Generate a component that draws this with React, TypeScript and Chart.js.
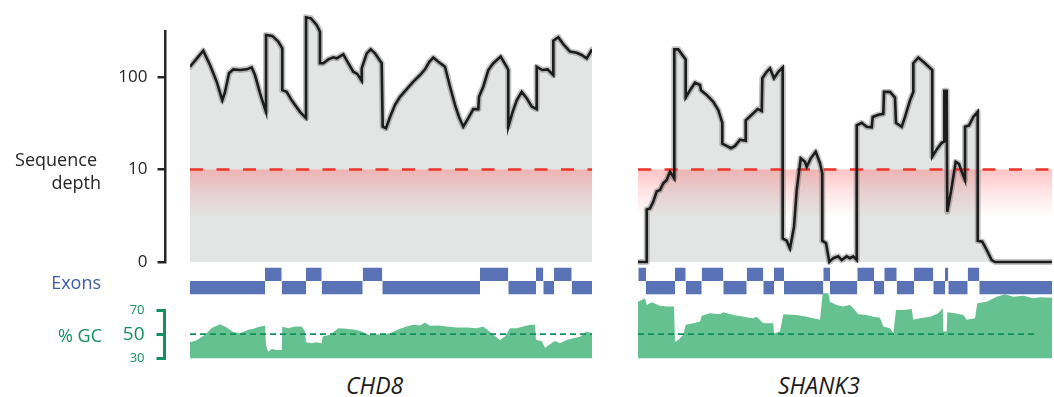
import React, { useEffect, useRef } from 'react';
import { Chart, registerables } from 'chart.js';

Chart.register(...registerables);

// ---------------- data ----------------
const GENES = ['CHD8', 'SHANK3'];

// region lengths (relative position units)
const CHD8_LENGTH = 402;
const SHANK3_LENGTH = 414;

// sequence depth: [position, depth]
const CHD8_DEPTH: [number, number][] = [
  [0, 129], [8.3, 166], [13.3, 193], [20, 135], [26.7, 89], [32.3, 56], [35, 69], [39, 110], [43.3, 121], [50, 119],
  [56.7, 121], [61.7, 127], [65, 105], [70, 67], [76, 42], [76, 285], [82.3, 278], [88.3, 241], [92.3, 204], [92.3, 72],
  [96.7, 69], [101.7, 56], [110, 42], [116, 36], [116, 442], [121, 431], [126.7, 365], [130, 309], [130, 141], [133.3, 141],
  [138.3, 155], [143.3, 163], [146.7, 159], [153.3, 176], [158.3, 141], [163.3, 114], [167.3, 108], [171.7, 91], [171.7, 124], [176.7, 180],
  [180.7, 199], [185, 180], [191.7, 141], [192.7, 29], [196, 28], [200, 37], [205, 50], [210, 61], [216.7, 74], [223.3, 89],
  [230, 105], [235, 121], [239.3, 146], [243.3, 162], [248.3, 146], [255, 129], [260, 79], [265, 50], [269, 37], [273.3, 29],
  [278.3, 36], [283.3, 45], [288.3, 45], [289, 61], [293.3, 79], [298.3, 119], [303.3, 141], [310.7, 166], [316.7, 129], [318.3, 119],
  [318.3, 29], [322.3, 41], [326.7, 56], [331.7, 69], [336.7, 59], [341.7, 48], [346.7, 45], [346.7, 129], [352.3, 119], [357.7, 121],
  [363.3, 105], [363.3, 247], [368.3, 269], [373.3, 227], [380, 188], [386.7, 183], [391.7, 173], [396.7, 159], [402, 199],
];

const SHANK3_DEPTH: [number, number][] = [
  [0, 0], [8.7, 0], [8.7, 3.7], [12, 3.8], [15.3, 4.5], [18.7, 5.8], [22, 6], [25.3, 7.1], [28.7, 7.7], [32, 9.5],
  [36.3, 8], [36.3, 199], [40.3, 199], [47.7, 155], [47.7, 60], [52, 72], [57, 87], [62, 82], [63, 72], [68.7, 64],
  [75.3, 54], [80.3, 44], [84.3, 32], [84.3, 19], [88.7, 18], [93, 17], [97, 18], [102, 21], [107.7, 20.5], [107.7, 34],
  [113.7, 39], [119.7, 45], [123.7, 43], [124.3, 97], [128.7, 114], [132, 124], [136, 97], [140.3, 114], [144.7, 127], [144.7, 1.8],
  [148.7, 1.7], [152, 1.4], [156, 2.4], [158.7, 6], [162.7, 13.2], [167, 12.1], [168.7, 10.7], [172.7, 13.2], [177.7, 15.6], [182, 11.7],
  [184.3, 9.1], [184.3, 1.7], [188, 1.6], [191.3, 0], [195.3, 1.1], [200.3, 1.15], [203.7, 1.05], [208.7, 1.15], [212, 1.1], [215.3, 1.15],
  [218.7, 1.05], [218.7, 30], [223.7, 32], [228.7, 29], [233.7, 28.6], [234.7, 37], [240.3, 39], [245.3, 40], [246, 69], [252, 69],
  [257, 60], [258, 32], [263.7, 29], [267, 37], [272, 56], [275.3, 69], [275.3, 141], [280.3, 162], [287, 141], [294.3, 119],
  [294.3, 13.8], [298.7, 16.5], [303.7, 19.5], [306.3, 20], [306.3, 71], [308.7, 71], [309.3, 3.5], [313, 5.8], [317.7, 12.1], [321, 11.5],
  [323.7, 9.5], [327, 7.7], [327, 29], [331, 30], [335.3, 37], [339.7, 42], [339.7, 1.7], [344.3, 1.66], [348.7, 1.35], [353.7, 1.05],
  [357, 0], [414, 0],
];

// % GC: [position, percent]
const CHD8_GC: [number, number][] = [
  [0, 43.3], [6.7, 45], [15, 49.4], [21.7, 55], [30, 58.3], [36.7, 55.5], [43.3, 51.7], [50, 50.8], [58.3, 53.6], [63.3, 54.4],
  [70, 56.3], [75, 56.9], [76, 40.5], [78.3, 35.5], [81.7, 37.7], [86.7, 36.9], [91.7, 36.9], [92.3, 56.3], [98.3, 54.9], [105, 56.3],
  [111.7, 56.3], [115, 52.2], [116, 43.3], [121.7, 42.4], [126.7, 43.3], [131.7, 42.4], [132.7, 48.1], [140, 49.4], [148.3, 54.9], [156.7, 54.4],
  [165, 53.6], [171.7, 52.2], [178.3, 49.4], [185, 50], [191.7, 49.4], [200, 50.8], [210, 54.4], [216.7, 56.3], [223.3, 57.7], [230, 57.1],
  [235, 59.6], [240, 56.9], [248.3, 57.1], [256.7, 56.3], [266.7, 55.5], [276.7, 55.5], [286.7, 54.9], [293.3, 56.3], [301.7, 50.8], [310, 45.2],
  [315, 48], [320, 54.9], [326.7, 54.9], [333.3, 56.3], [340, 57.7], [345, 57.7], [346, 45.2], [351.7, 44.3], [355, 38.8], [360, 41.6],
  [365, 44.3], [370, 42.4], [376.7, 45.2], [383.3, 46.6], [390, 47.9], [396.7, 52.1], [402, 50.8],
];

const SHANK3_GC: [number, number][] = [
  [0, 76.9], [7, 79.7], [8.7, 74.1], [13.7, 76.4], [22, 73.6], [28.7, 72.8], [36, 72.8], [37, 43.8], [40.3, 45.2], [45.3, 49.4],
  [47.7, 57.7], [55.3, 59], [62, 60.4], [63.7, 65.3], [72, 67.3], [82, 66.5], [85.3, 68.1], [95.3, 65.9], [105.3, 64.5], [115.3, 63.1],
  [118.7, 64.5], [125.3, 59], [135.3, 59], [136, 50.8], [142, 52.2], [145.3, 66.5], [158.7, 65.9], [168.7, 64.5], [175.3, 63.1], [182, 62],
  [184.7, 83.8], [190.3, 83.8], [192, 76.9], [198.7, 74.1], [205.3, 72.8], [212, 74.1], [215.3, 71.4], [220.3, 66.5], [228.7, 65.9], [235.3, 64.5],
  [242, 63.6], [245.3, 56.3], [252, 54.9], [255.3, 50.8], [258, 70], [265.3, 70], [273.7, 70.8], [275.3, 62], [282, 63.1], [292, 64.5],
  [300.3, 67.3], [304.7, 71.4], [305.3, 52.2], [308.7, 52.2], [309.3, 68.1], [317, 67.3], [325.3, 65.9], [328.7, 62], [337, 63.1], [339.3, 75.5],
  [348.7, 76.9], [358.7, 81], [367, 83], [375.3, 81], [385.3, 81.8], [395.3, 79.7], [402, 80.5], [414, 80.2],
];

// exons: boundaries and row (0 = lower, 1 = upper)
const CHD8_EXON_BOUNDS = [0, 75, 91.7, 116, 131.7, 172.7, 192.3, 290, 318.3, 346, 353.3, 364, 381.7, 402.3];
const CHD8_EXON_ROWS = [0, 1, 0, 1, 0, 1, 0, 1, 0, 1, 0, 1, 0];
const SHANK3_EXON_BOUNDS = [0.3, 8, 37, 47.7, 63.7, 85.3, 108.7, 125.3, 136, 146, 185.3, 192, 219.3, 236, 246.3, 258.7, 276, 295.3, 307, 310.3, 329.7, 341.3, 414];
const SHANK3_EXON_ROWS = [1, 0, 1, 0, 1, 0, 1, 0, 1, 0, 1, 0, 1, 0, 1, 0, 1, 0, 1, 0, 1, 0];

const DEPTH_TICKS = [0, 10, 100];
const GC_TICKS = [30, 50, 70];
const DEPTH_THRESHOLD = 10;
const GC_REFERENCE = 50;
const CHD8_GC_REF_END = 402;
const SHANK3_GC_REF_END = 399;

// ---------------- layout / style ----------------
const FONT = "'Open Sans', 'DejaVu Sans', sans-serif";
Chart.defaults.font.family = FONT;

const PANEL_H = 365;
const PX = {
  depthOne: 262,
  depthTen: 169.5,
  depthAxisTop: 31.7,
  exonLow: 294.3,
  exonHigh: 267.7,
  gcLow: 358.3,
  gcHigh: 310,
  axisX: 165.5,
};
const COLORS = {
  fill: '#e3e4e4',
  band: 'rgba(95,95,95,0.38)',
  line: '#1c1c1c',
  red: '#ea3329',
  exon: '#5a72b6',
  gc: '#66c190',
  gcDark: '#12905e',
  text: '#262626',
  blueText: '#3d5ba8',
};

function linRange(v0: number, p0: number, v1: number, p1: number, top: number, bottom: number) {
  const k = (p0 - p1) / (v1 - v0);
  return { min: v0 - (bottom - p0) / k, max: v1 + (p1 - top) / k };
}
function logRange(v0: number, p0: number, v1: number, p1: number, top: number, bottom: number) {
  const r = linRange(Math.log10(v0), p0, Math.log10(v1), p1, top, bottom);
  return { min: Math.pow(10, r.min), max: Math.pow(10, r.max) };
}
const toLog = (d: number) => Math.max(1, d);

type PanelProps = {
  left: number;
  length: number;
  depth: [number, number][];
  gc: [number, number][];
  bounds: number[];
  rows: number[];
  gcRefEnd: number;
};

function Panel({ left, length, depth, gc, bounds, rows, gcRefEnd }: PanelProps) {
  const ref = useRef<HTMLCanvasElement>(null);
  useEffect(() => {
    const yD = logRange(1, PX.depthOne, 10, PX.depthTen, 0, PANEL_H);
    const yE = linRange(0, PX.exonLow, 2, PX.exonHigh, 0, PANEL_H);
    const yG = linRange(30, PX.gcLow, 70, PX.gcHigh, 0, PANEL_H);
    const depthPts = depth.map(([x, d]) => ({ x, y: toLog(d) }));
    const thr = [{ x: 0, y: DEPTH_THRESHOLD }, { x: length, y: DEPTH_THRESHOLD }];
    const base = { pointRadius: 0, tension: 0, borderWidth: 0 };
    const datasets: any[] = [
      { ...base, data: depthPts, yAxisID: 'yD', backgroundColor: COLORS.fill, fill: { value: 1 }, order: 10 },
      {
        ...base, data: thr, yAxisID: 'yD', fill: { value: 1 }, order: 9,
        backgroundColor: (c: any) => {
          const chart = c.chart;
          if (!chart.chartArea || !chart.scales.yD) return 'rgba(0,0,0,0)';
          const y0 = chart.scales.yD.getPixelForValue(DEPTH_THRESHOLD);
          const g = chart.ctx.createLinearGradient(0, y0, 0, y0 + 48);
          g.addColorStop(0, 'rgba(255,105,105,0.4)');
          g.addColorStop(0.45, 'rgba(255,105,105,0.18)');
          g.addColorStop(1, 'rgba(255,105,105,0)');
          return g;
        },
      },
      { ...base, data: depthPts, yAxisID: 'yD', borderColor: COLORS.band, borderWidth: 6, borderJoinStyle: 'round', borderCapStyle: 'round', fill: false, order: 8 },
      { ...base, data: thr, yAxisID: 'yD', borderColor: COLORS.red, borderWidth: 2.6, borderDash: [13, 13.5], fill: false, order: 7 },
      { ...base, data: depthPts, yAxisID: 'yD', borderColor: COLORS.line, borderWidth: 2.6, fill: false, order: 1 },
    ];
    rows.forEach((row, i) => {
      datasets.push({
        ...base,
        data: [{ x: bounds[i], y: row + 1 }, { x: bounds[i + 1], y: row + 1 }],
        yAxisID: 'yE', backgroundColor: COLORS.exon, fill: { value: row }, order: 5,
      });
    });
    datasets.push({ ...base, data: gc.map(([x, v]) => ({ x, y: v })), yAxisID: 'yG', backgroundColor: COLORS.gc, fill: { value: 30 }, order: 6 });
    datasets.push({
      ...base, data: [{ x: 0, y: GC_REFERENCE }, { x: gcRefEnd, y: GC_REFERENCE }], yAxisID: 'yG',
      borderColor: COLORS.gcDark, borderWidth: 1.6, borderDash: [6, 4], fill: false, order: 4,
    });

    const chart = new Chart(ref.current!, {
      type: 'line',
      data: { datasets },
      options: {
        responsive: false,
        animation: false,
        events: [],
        layout: { padding: 0 },
        plugins: { legend: { display: false }, tooltip: { enabled: false } },
        scales: {
          x: { type: 'linear', min: 0, max: length, display: false },
          yD: { type: 'logarithmic', min: yD.min, max: yD.max, display: false },
          yE: { type: 'linear', min: yE.min, max: yE.max, display: false },
          yG: { type: 'linear', min: yG.min, max: yG.max, display: false },
        },
      } as any,
    });
    return () => chart.destroy();
  }, []);
  const width = Math.round(length);
  return (
    <canvas ref={ref} width={width} height={PANEL_H}
      style={{ position: 'absolute', left, top: 0, width, height: PANEL_H, display: 'block' }} />
  );
}

function DepthAxis() {
  const ref = useRef<HTMLCanvasElement>(null);
  const H = 290;
  const W = 175;
  useEffect(() => {
    const r = logRange(1, PX.depthOne, 10, PX.depthTen, PX.depthAxisTop, PX.depthOne);
    const chart = new Chart(ref.current!, {
      type: 'line',
      data: { datasets: [] },
      options: {
        responsive: false,
        animation: false,
        events: [],
        layout: { padding: { top: PX.depthAxisTop, bottom: H - PX.depthOne, left: 0, right: 0 } },
        plugins: { legend: { display: false }, tooltip: { enabled: false } },
        scales: {
          x: { display: false },
          y: {
            type: 'logarithmic', min: 1, max: r.max,
            afterBuildTicks: (s: any) => { s.ticks = DEPTH_TICKS.map((v) => ({ value: toLog(v) })); },
            afterFit: (s: any) => { s.width = PX.axisX; },
            border: { display: true, color: COLORS.text, width: 2.5 },
            grid: { display: true, drawOnChartArea: false, drawTicks: true, tickLength: 8, tickWidth: 2.5, tickColor: COLORS.text, color: COLORS.text, lineWidth: 2.5 },
            ticks: {
              autoSkip: false, padding: 10, color: COLORS.text, font: { size: 17, family: FONT },
              callback: (v: any) => String(DEPTH_TICKS.find((t) => toLog(t) === v) ?? ''),
            },
          },
        },
      } as any,
    });
    return () => chart.destroy();
  }, []);
  return <canvas ref={ref} width={W} height={H} style={{ position: 'absolute', left: 0, top: 0, width: W, height: H, display: 'block' }} />;
}

function GcAxis() {
  const ref = useRef<HTMLCanvasElement>(null);
  const TOP = 290;
  const H = 90;
  const W = 175;
  useEffect(() => {
    const chart = new Chart(ref.current!, {
      type: 'line',
      data: { datasets: [] },
      options: {
        responsive: false,
        animation: false,
        events: [],
        layout: { padding: { top: PX.gcHigh - TOP, bottom: TOP + H - PX.gcLow, left: 0, right: 0 } },
        plugins: { legend: { display: false }, tooltip: { enabled: false } },
        scales: {
          x: { display: false },
          y: {
            type: 'linear', min: GC_TICKS[0], max: GC_TICKS[GC_TICKS.length - 1],
            afterBuildTicks: (s: any) => { s.ticks = GC_TICKS.map((v) => ({ value: v })); },
            afterFit: (s: any) => { s.width = PX.axisX - 1; },
            border: { display: true, color: COLORS.gcDark, width: 3 },
            grid: { display: true, drawOnChartArea: false, drawTicks: true, tickLength: 8, tickWidth: 3, tickColor: COLORS.gcDark, color: COLORS.gcDark, lineWidth: 3 },
            ticks: {
              autoSkip: false, padding: 12, color: COLORS.gcDark,
              font: (c: any) => ({ size: c.tick && c.tick.value === GC_REFERENCE ? 19 : 13, family: FONT }),
              callback: (v: any) => String(v),
            },
          },
        },
      } as any,
    });
    return () => chart.destroy();
  }, []);
  return <canvas ref={ref} width={W} height={H} style={{ position: 'absolute', left: 0, top: TOP, width: W, height: H, display: 'block' }} />;
}

const textBase: React.CSSProperties = {
  position: 'absolute', fontFamily: FONT, fontSize: 18, lineHeight: '24px', whiteSpace: 'nowrap', margin: 0,
};

export default function App() {
  return (
    <div style={{ position: 'absolute', left: 0, top: 0, width: 1054, height: 397, background: '#fff', overflow: 'hidden' }}>
      <DepthAxis />
      <GcAxis />
      <Panel left={190} length={CHD8_LENGTH} depth={CHD8_DEPTH} gc={CHD8_GC} bounds={CHD8_EXON_BOUNDS} rows={CHD8_EXON_ROWS} gcRefEnd={CHD8_GC_REF_END} />
      <Panel left={638} length={SHANK3_LENGTH} depth={SHANK3_DEPTH} gc={SHANK3_GC} bounds={SHANK3_EXON_BOUNDS} rows={SHANK3_EXON_ROWS} gcRefEnd={SHANK3_GC_REF_END} />
      <div style={{ ...textBase, left: 0, width: 97, top: 146.5, textAlign: 'right', color: COLORS.text }}>Sequence</div>
      <div style={{ ...textBase, left: 0, width: 101, top: 170, textAlign: 'right', color: COLORS.text }}>depth</div>
      <div style={{ ...textBase, left: 0, width: 101, top: 269.7, textAlign: 'right', color: COLORS.blueText }}>Exons</div>
      <div style={{ ...textBase, left: 0, width: 102, top: 322.5, textAlign: 'right', color: COLORS.gcDark }}>% GC</div>
      <div style={{ ...textBase, left: 346, top: 370.4, fontSize: 23, lineHeight: '30px', fontStyle: 'italic', color: '#1a1a1a' }}>{GENES[0]}</div>
      <div style={{ ...textBase, left: 778, top: 370.4, fontSize: 23, lineHeight: '30px', fontStyle: 'italic', color: '#1a1a1a' }}>{GENES[1]}</div>
    </div>
  );
}
